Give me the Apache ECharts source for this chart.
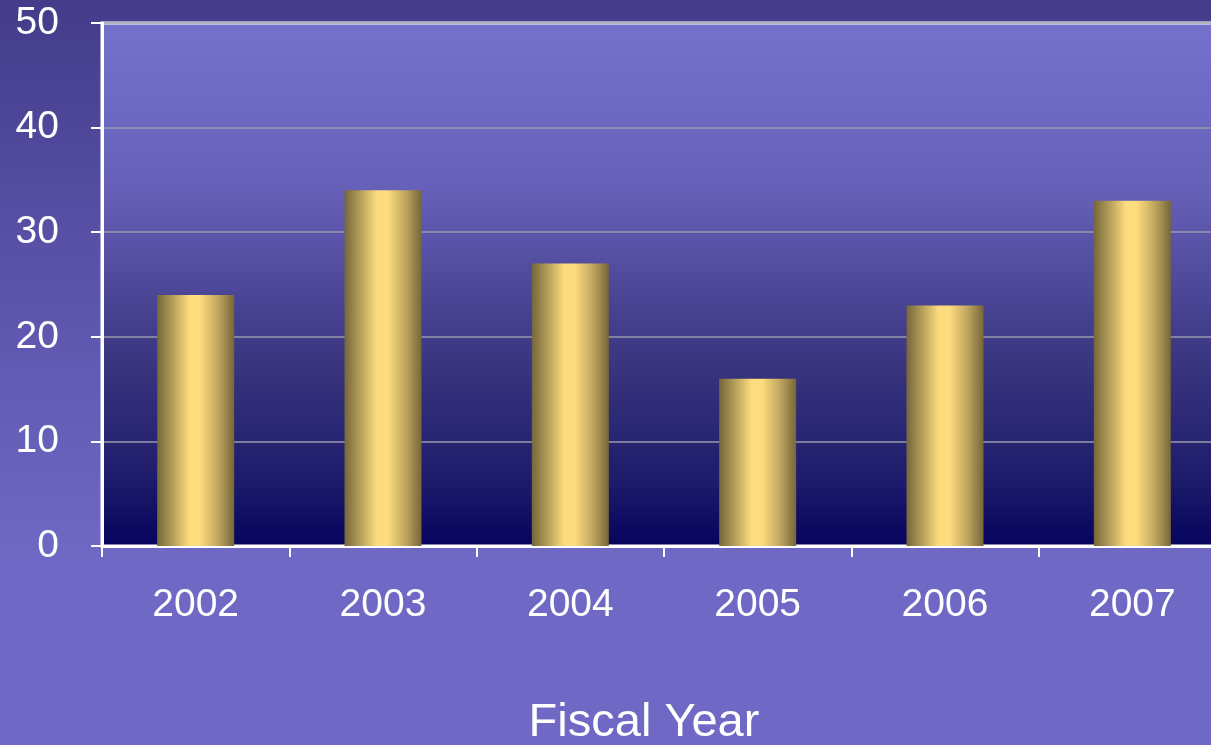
<!DOCTYPE html>
<html>
<head>
<meta charset="utf-8">
<script src="https://cdn.jsdelivr.net/npm/echarts@6/dist/echarts.min.js"></script>
<style>
  html, body { margin: 0; padding: 0; width: 1211px; height: 745px; overflow: hidden; }
  body { background: linear-gradient(to bottom, #433c8a 0%, #5a52a8 35%, #6f69c5 75%, #6f69c5 100%); }
  #chart { width: 1211px; height: 745px; }
</style>
</head>
<body>
<div id="chart"></div>
<script>
// Fiscal years and their counts
const years = ['2002', '2003', '2004', '2005', '2006', '2007'];
const counts = [24, 34, 27, 16, 23, 33];
const yTicks = { min: 0, max: 50, interval: 10 };

const chart = echarts.init(document.getElementById('chart'));

// gold cylinder look: dark edges, bright centre
const barFill = new echarts.graphic.LinearGradient(0, 0, 1, 0, [
  { offset: 0, color: '#76663a' },
  { offset: 0.2, color: '#b39d5a' },
  { offset: 0.42, color: '#fddc7d' },
  { offset: 0.56, color: '#fddc7d' },
  { offset: 0.8, color: '#bda35e' },
  { offset: 1, color: '#76663a' }
]);

// plot area fades from lavender to deep navy
const plotFill = new echarts.graphic.LinearGradient(0, 0, 0, 1, [
  { offset: 0, color: '#7572cd' },
  { offset: 0.32, color: '#6660b8' },
  { offset: 0.66, color: '#38347e' },
  { offset: 0.88, color: '#1c1a6a' },
  { offset: 1, color: '#05035c' }
]);

chart.setOption({
  backgroundColor: 'transparent',
  animation: false,
  textStyle: { fontFamily: 'Liberation Sans, Arial, sans-serif', color: '#ffffff' },
  grid: {
    left: 102, right: -15, top: 23, bottom: 199,
    containLabel: false,
    outerBoundsMode: 'none',
    show: true,
    backgroundColor: plotFill,
    borderColor: '#ffffff',
    borderWidth: 3
  },
  xAxis: {
    type: 'category',
    data: years,
    name: 'Fiscal Year',
    nameLocation: 'middle',
    nameGap: 154,
    nameTextStyle: { color: '#ffffff', fontSize: 47, padding: [0, 40, 0, 0] },
    axisLine: { show: true, lineStyle: { color: '#ffffff', width: 3 } },
    axisTick: { show: true, length: 11, lineStyle: { color: '#ffffff', width: 2 } },
    axisLabel: { color: '#ffffff', fontSize: 39, margin: 40 },
    splitLine: { show: false }
  },
  yAxis: {
    type: 'value',
    min: yTicks.min, max: yTicks.max, interval: yTicks.interval,
    axisLine: { show: true, lineStyle: { color: '#ffffff', width: 3 } },
    axisTick: { show: true, length: 11, lineStyle: { color: '#ffffff', width: 2 } },
    axisLabel: { color: '#ffffff', fontSize: 39, margin: 43 },
    splitLine: { show: true, lineStyle: { color: '#9a98ac', width: 1.5 } }
  },
  series: [{
    type: 'bar',
    data: counts,
    barWidth: 77,
    itemStyle: { color: barFill }
  }]
});
</script>
</body>
</html>
